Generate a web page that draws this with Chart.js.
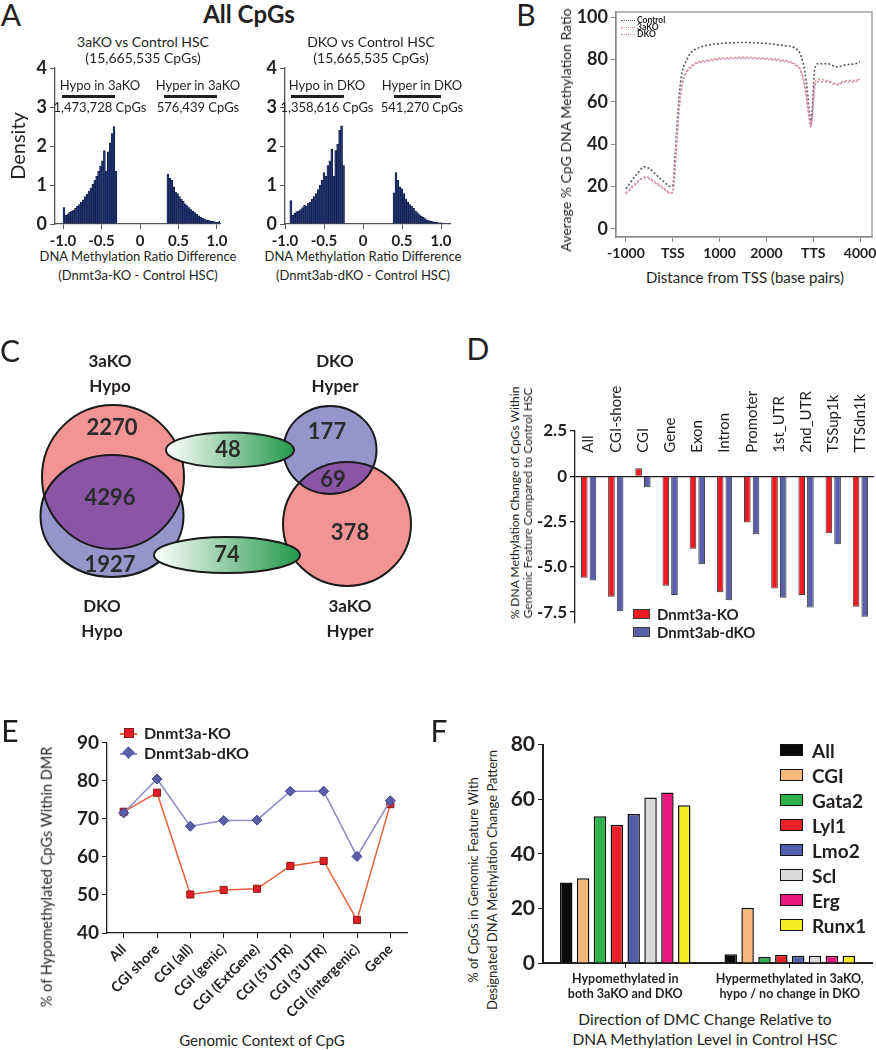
<!DOCTYPE html>
<html>
<head>
<meta charset="utf-8">
<script src="https://cdn.jsdelivr.net/npm/chart.js"></script>
<style>
body { margin: 0; width: 876px; height: 1050px; position: relative; background: #fff; overflow: hidden;
       font-family: Lato, "Open Sans", sans-serif; color: #231f20; }
.box { position: absolute; }
.t { position: absolute; white-space: nowrap; line-height: 1; }
.bar { position: absolute; background: #231f20; }
</style>
</head>
<body>
<div class="box" id="bA1"><canvas id="cA1"></canvas></div>
<div class="box" id="bA2"><canvas id="cA2"></canvas></div>
<div class="box" id="bB"><canvas id="cB"></canvas></div>
<div class="box" id="bC"><canvas id="cC"></canvas></div>
<div class="box" id="bD"><canvas id="cD"></canvas></div>
<div class="box" id="bE"><canvas id="cE"></canvas></div>
<div class="box" id="bF"><canvas id="cF"></canvas></div>
<script>
/* datos */
// A: densidades de los histogramas (bins de 0.025)
var binWidth = 0.025;
var hypo3aStart = -0.9875;
var hypo3a = [0.42, 0.22, 0.26, 0.3, 0.33, 0.36, 0.4, 0.45, 0.5, 0.56, 0.62, 0.7, 0.76, 0.84, 0.92, 1.02, 1.12, 1.22, 1.35, 1.48, 1.62, 1.88, 1.35, 1.85, 2.08, 2.32, 2.5, 1.35];
var hyper3aStart = 0.3625;
var hyper3a = [1.28, 1.18, 1.12, 0.95, 0.82, 0.78, 0.7, 0.64, 0.58, 0.52, 0.47, 0.42, 0.37, 0.33, 0.29, 0.25, 0.21, 0.18, 0.15, 0.13, 0.11, 0.1, 0.08, 0.07, 0.06, 0.05, 0.04, 0.07];
var hypoDkoStart = -0.925;
var hypoDko = [0.6, 0.22, 0.28, 0.32, 0.34, 0.37, 0.42, 0.48, 0.46, 0.53, 0.56, 0.63, 0.7, 0.78, 0.88, 1.0, 1.12, 1.32, 1.22, 1.5, 1.62, 1.92, 1.22, 1.88, 2.05, 2.4, 2.52, 1.5];
var hyperDkoStart = 0.3975;
var hyperDko = [0.8, 1.32, 1.12, 0.95, 0.9, 0.78, 0.64, 0.56, 0.5, 0.45, 0.4, 0.34, 0.29, 0.24, 0.2, 0.17, 0.14, 0.11, 0.09, 0.07, 0.06, 0.05, 0.04, 0.03, 0.03, 0.02, 0.02];
var histXTicks = [-1, -0.5, 0, 0.5, 1];
var histYTicks = [0, 1, 2, 3, 4];

// B: perfil de metilación
var profileX = [-1000, -800, -600, -500, -400, -200, -50, 0, 50, 100, 150, 200, 300, 400, 500, 700, 1000, 1500, 2000, 2400, 2600, 2750, 2850, 2920, 2950, 2980, 3030, 3100, 3300, 3500, 3700, 3900, 4000];
var profileControl = [19, 25, 29.3, 28.5, 26.5, 22.5, 20, 20.5, 35, 52, 66, 74, 80, 83.5, 85, 86.5, 87.5, 88, 87.5, 86.5, 85.5, 81, 70, 55, 50, 56, 75, 78, 78, 76.5, 77.5, 78, 79];
var profile3aKO = [16.5, 21, 24.5, 24, 22.5, 19.5, 17, 17.5, 30, 47, 61, 69, 74.5, 77, 78.5, 79.5, 80.5, 81, 80.5, 79.5, 78, 74, 64, 52, 48.5, 54, 68, 70.5, 70, 68.5, 70, 70, 71];
var profileDKO = [17, 21.5, 24.2, 23.6, 22, 19, 16.8, 17.2, 29, 46, 60, 68, 74, 76.5, 78, 79, 80, 80.5, 80, 79, 77.5, 73.5, 63, 51, 48, 53, 67, 69.5, 69.5, 68, 69.5, 69.5, 70.5];
var profileXTicks = [-1000, 0, 1000, 2000, 3000, 4000];
var profileXLabels = ["-1000", "TSS", "1000", "2000", "TTS", "4000"];
var profileYTicks = [0, 20, 40, 60, 80, 100];

// C: recuentos del diagrama de Venn
var vennNames = ["3aKO Hypo only", "3aKO+DKO Hypo", "DKO Hypo only", "DKO Hyper only", "DKO+3aKO Hyper", "3aKO Hyper only", "3aKO Hypo / DKO Hyper", "DKO Hypo / 3aKO Hyper"];
var vennCounts = [2270, 4296, 1927, 177, 69, 378, 48, 74];

// D: cambio de metilación por elemento genómico
var featuresD = ["All", "CGI-shore", "CGI", "Gene", "Exon", "Intron", "Promoter", "1st_UTR", "2nd_UTR", "TSSup1k", "TTSdn1k"];
var changeKO = [-5.6, -6.65, 0.45, -6.05, -4.0, -6.4, -2.55, -6.2, -6.55, -3.15, -7.2];
var changeDKO = [-5.75, -7.45, -0.6, -6.55, -4.85, -6.85, -3.2, -6.7, -7.25, -3.75, -7.75];
var changeYTicks = [-7.5, -5, -2.5, 0, 2.5];

// E: % CpG hipometilados en DMR
var contextsE = ["All", "CGI shore", "CGI (all)", "CGI (genic)", "CGI (ExtGene)", "CGI (5\u2019UTR)", "CGI (3\u2019UTR)", "CGI (intergenic)", "Gene"];
var hypoKO = [71.8, 76.8, 50.1, 51.3, 51.6, 57.6, 58.9, 43.4, 73.8];
var hypoDKO = [71.5, 80.4, 68.0, 69.5, 69.6, 77.2, 77.2, 60.1, 74.7];

// F: patrones por elemento
var groupsF = [["Hypomethylated in", "both 3aKO and DKO"], ["Hypermethylated in 3aKO,", "hypo / no change in DKO"]];
var featuresF = ["All", "CGI", "Gata2", "Lyl1", "Lmo2", "Scl", "Erg", "Runx1"];
var hypoBoth = [29.5, 31, 53.8, 50.6, 54.6, 60.6, 62.5, 57.8];
var hyper3aOnly = [3.2, 20.2, 2.2, 3.0, 2.7, 2.7, 2.7, 2.7];
var colorsF = ["#0a0a0a", "#f5b97c", "#2eb24b", "#e8202a", "#545fab", "#d9d9d9", "#e8187f", "#f4ec1f"];

/* ajustes generales */
Chart.defaults.font.family = "Lato, 'Open Sans', sans-serif";
Chart.defaults.color = "#231f20";
Chart.defaults.animation = false;
Chart.defaults.responsive = true;
Chart.defaults.maintainAspectRatio = false;
Chart.defaults.plugins.legend.display = false;
Chart.defaults.plugins.tooltip.enabled = false;

var PAD = 14;
var INK = "#231f20";

// coloca la caja para que el área del gráfico quede en (L,T)-(R,B)
function place(id, L, T, R, B, yw, xh) {
    var el = document.getElementById(id);
    el.style.left = (L - yw) + "px";
    el.style.top = (T - PAD) + "px";
    el.style.width = (R - L + yw + PAD) + "px";
    el.style.height = (B - T + PAD + (xh ? xh : PAD)) + "px";
}
function padding(xh) {
    return {top: PAD, right: PAD, left: 0, bottom: xh ? 0 : PAD};
}

function axis(o) {
    var a = {
        type: o.type || "linear",
        offset: o.offset || false,
        border: {color: o.color || INK, width: o.lw || 1.3},
        grid: {drawOnChartArea: false, color: o.color || INK, tickLength: 5, offset: false},
        ticks: {color: INK, padding: 3, autoSkip: false, maxRotation: o.rot || 0, minRotation: o.rot || 0,
                font: {weight: "bold", size: o.size}},
        afterFit: function (s) {
            if (o.w !== undefined) s.width = o.w;
            if (o.h !== undefined) s.height = o.h;
        }
    };
    if (o.min !== undefined) { a.min = o.min; a.max = o.max; }
    if (o.values) a.afterBuildTicks = function (s) {
        s.ticks = o.values.map(function (v) { return {value: v}; });
    };
    if (o.format) a.ticks.callback = o.format;
    if (o.lineHeight) a.ticks.font.lineHeight = o.lineHeight;
    return a;
}

function txt(s, x, y, size, weight, rot, left) {
    var d = document.createElement("div");
    d.className = "t";
    d.textContent = s;
    d.style.left = x + "px";
    d.style.top = y + "px";
    d.style.fontSize = size + "px";
    if (weight) d.style.fontWeight = weight;
    d.style.transform = (left ? "translate(0,-50%)" : "translate(-50%,-50%)") + (rot ? " rotate(-90deg)" : "");
    document.body.appendChild(d);
    return d;
}
function rule(x, y, w, h, color) {
    var d = document.createElement("div");
    d.className = "bar";
    d.style.left = x + "px"; d.style.top = y + "px";
    d.style.width = w + "px"; d.style.height = h + "px";
    if (color) d.style.background = color;
    document.body.appendChild(d);
    return d;
}

/* A: histogramas */
function binPoints(start, values) {
    return values.map(function (v, i) { return {x: start + i * binWidth, y: v}; });
}
function histogram(id, hypoStart, hypo, hyperStart, hyper, xmin, xmax, yw) {
    var pts = binPoints(hypoStart, hypo).concat(binPoints(hyperStart, hyper));
    new Chart(document.getElementById(id), {
        type: "bar",
        data: {datasets: [{data: pts, backgroundColor: "#223778", borderColor: "#0c1535", borderWidth: 0.6,
                           barPercentage: 1, categoryPercentage: 1}]},
        options: {
            layout: {padding: padding(22)},
            scales: {
                x: axis({min: xmin, max: xmax, values: histXTicks, size: 15, h: 22, color: "#555",
                         format: function (v) { return v === 0 ? "0" : v.toFixed(1); }}),
                y: axis({min: 0, max: 4, values: histYTicks, size: 18, w: yw, color: "#555"})
            }
        }
    });
}
place("bA1", 55, 68, 220, 224, 55, 22);
histogram("cA1", hypo3aStart, hypo3a, hyper3aStart, hyper3a, -1.104, 1.039, 55);
place("bA2", 285, 68, 450, 224, 40, 22);
histogram("cA2", hypoDkoStart, hypoDko, hyperDkoStart, hyperDko, -1.0, 1.115, 40);

txt("A", 11, 14, 30);
txt("All CpGs", 249, 14, 24, "bold");
txt("3aKO vs Control HSC", 143, 42, 14);
txt("(15,665,535 CpGs)", 143, 58, 14);
txt("DKO vs Control HSC", 371, 42, 14);
txt("(15,665,535 CpGs)", 371, 58, 14);
txt("Hypo in 3aKO", 100, 85, 13);
rule(62, 95, 53, 3);
txt("1,473,728 CpGs", 100, 107, 13);
txt("Hyper in 3aKO", 198, 85, 13);
rule(164, 95, 53, 3);
txt("576,439 CpGs", 198, 107, 13);
txt("Hypo in DKO", 327, 85, 13);
rule(291, 95, 53, 3);
txt("1,358,616 CpGs", 327, 107, 13);
txt("Hyper in DKO", 422, 85, 13);
rule(394, 95, 47, 3);
txt("541,270 CpGs", 422, 107, 13);
txt("Density", 17, 146, 20, null, true);
txt("DNA Methylation Ratio Difference", 138, 256, 13);
txt("(Dnmt3a-KO - Control HSC)", 138, 275, 13);
txt("DNA Methylation Ratio Difference", 363, 256, 13);
txt("(Dnmt3ab-dKO - Control HSC)", 363, 275, 13);

/* B: perfil */
var frame = {
    id: "frame",
    afterDraw: function (chart) {
        var a = chart.chartArea, ctx = chart.ctx;
        ctx.save();
        ctx.strokeStyle = "#8a8a8a";
        ctx.lineWidth = 1.2;
        ctx.strokeRect(a.left, a.top, a.right - a.left, a.bottom - a.top);
        ctx.restore();
    }
};
function profileSet(values, color) {
    return {
        data: profileX.map(function (x, i) { return {x: x, y: values[i]}; }),
        borderColor: color, borderWidth: 1.6, borderDash: [2, 2], pointRadius: 0,
        cubicInterpolationMode: "monotone", fill: false
    };
}
place("bB", 616, 12, 872, 237, 50, 26);
new Chart(document.getElementById("cB"), {
    type: "line",
    data: {datasets: [profileSet(profileDKO, "#c98fc4"), profileSet(profile3aKO, "#ec8a86"), profileSet(profileControl, "#555a66")]},
    options: {
        layout: {padding: padding(26)},
        scales: {
            x: axis({min: -1213, max: 4255, values: profileXTicks, size: 14, h: 26, color: "#8a8a8a",
                     format: function (v) { return profileXLabels[profileXTicks.indexOf(v)]; }}),
            y: axis({min: -3.8, max: 102.4, values: profileYTicks, size: 18, w: 50, color: "#8a8a8a"})
        }
    },
    plugins: [frame]
});
txt("B", 526, 14, 30);
txt("Average % CpG DNA Methylation Ratio", 566, 130, 14, null, true);
txt("Distance from TSS (base pairs)", 745, 277, 15);
[["Control", "#555a66", 20], ["3aKO", "#ec8a86", 27], ["DKO", "#c98fc4", 34]].forEach(function (l) {
    var r = rule(621, l[2], 14, 0);
    r.style.background = "none";
    r.style.borderTop = "1.6px dotted " + l[1];
    txt(l[0], 637, l[2], 8.5, "bold", false, true);
});

/* C: Venn (geometría en unidades de la escala oculta) */
var vennLayout = {
    hypo3a: {cx: 113, cy: 177, rx: 71, ry: 72},
    hypoDko: {cx: 112, cy: 216, rx: 71.5, ry: 61},
    hyperDko: {cx: 330, cy: 150, rx: 46.5, ry: 44},
    hyper3a: {cx: 347, cy: 224, rx: 64, ry: 62},
    linkTop: {cx: 230, cy: 150, rx: 64, ry: 17.5},
    linkBottom: {cx: 227, cy: 255, rx: 73, ry: 18},
    countPos: [[112, 128], [110, 198], [110, 265], [327, 132], [333, 180], [350, 233], [228, 150], [227, 255]]
};
var vennPlugin = {
    id: "venn",
    afterDraw: function (chart) {
        var ctx = chart.ctx, sx = chart.scales.x, sy = chart.scales.y;
        function path(e) {
            ctx.beginPath();
            ctx.ellipse(sx.getPixelForValue(e.cx), sy.getPixelForValue(e.cy),
                        Math.abs(sx.getPixelForValue(e.cx + e.rx) - sx.getPixelForValue(e.cx)),
                        Math.abs(sy.getPixelForValue(e.cy + e.ry) - sy.getPixelForValue(e.cy)), 0, 0, 2 * Math.PI);
        }
        function pair(a, b, colA, colB) {
            path(a); ctx.fillStyle = colA; ctx.fill();
            path(b); ctx.fillStyle = colB; ctx.fill();
            ctx.save(); path(a); ctx.clip(); path(b); ctx.fillStyle = "#8b55a6"; ctx.fill(); ctx.restore();
            ctx.lineWidth = 2; ctx.strokeStyle = "#1a1a1a";
            path(a); ctx.stroke(); path(b); ctx.stroke();
        }
        function link(e) {
            var x0 = sx.getPixelForValue(e.cx - e.rx), x1 = sx.getPixelForValue(e.cx + e.rx);
            var g = ctx.createLinearGradient(x0, 0, x1, 0);
            g.addColorStop(0, "#ffffff");
            g.addColorStop(1, "#22984a");
            path(e); ctx.fillStyle = g; ctx.fill();
            ctx.lineWidth = 2; ctx.strokeStyle = "#1a1a1a"; ctx.stroke();
        }
        ctx.save();
        pair(vennLayout.hypo3a, vennLayout.hypoDko, "#f29494", "#9595cc");
        pair(vennLayout.hyperDko, vennLayout.hyper3a, "#9595cc", "#f29494");
        link(vennLayout.linkTop);
        link(vennLayout.linkBottom);
        ctx.fillStyle = "#2b2b2b";
        ctx.font = "bold 22px Lato, sans-serif";
        ctx.textAlign = "center";
        ctx.textBaseline = "middle";
        vennCounts.forEach(function (n, i) {
            var p = vennLayout.countPos[i];
            ctx.fillText(String(n), sx.getPixelForValue(p[0]), sy.getPixelForValue(p[1]));
        });
        ctx.restore();
    }
};
var bC = document.getElementById("bC");
bC.style.left = "0px"; bC.style.top = "300px"; bC.style.width = "430px"; bC.style.height = "350px";
new Chart(document.getElementById("cC"), {
    type: "scatter",
    data: {datasets: [{label: "sets", data: []}]},
    options: {
        layout: {padding: 0},
        scales: {
            x: {display: false, min: 0, max: 430},
            y: {display: false, min: 0, max: 350, reverse: true}
        }
    },
    plugins: [vennPlugin]
});
txt("C", 10, 350, 30);
txt("3aKO", 110, 360, 17, "bold"); txt("Hypo", 110, 385, 17, "bold");
txt("DKO", 335, 360, 17, "bold"); txt("Hyper", 335, 385, 17, "bold");
txt("DKO", 102, 605, 17, "bold"); txt("Hypo", 102, 630, 17, "bold");
txt("3aKO", 350, 605, 17, "bold"); txt("Hyper", 350, 630, 17, "bold");

/* D: barras de cambio */
var topLabels = {
    id: "topLabels",
    afterDraw: function (chart) {
        var ctx = chart.ctx, x = chart.scales.x, y = chart.scales.y;
        ctx.save();
        ctx.font = "15px Lato, sans-serif";
        ctx.fillStyle = INK;
        ctx.textBaseline = "middle";
        ctx.textAlign = "left";
        chart.data.labels.forEach(function (lab, i) {
            ctx.save();
            ctx.translate(x.getPixelForValue(i), y.getPixelForValue(1.3));
            ctx.rotate(-Math.PI / 2);
            ctx.fillText(lab, 0, 0);
            ctx.restore();
        });
        ctx.restore();
    }
};
place("bD", 575, 431, 874, 623, 45, 0);
var bD = document.getElementById("bD");
bD.style.top = "380px";
bD.style.height = (623 - 380 + PAD) + "px";
var yD = axis({min: -8.1, max: 2.5, values: changeYTicks, size: 17, w: 45,
               format: function (v) { return v === 0 ? "0" : v.toFixed(1); }});
yD.grid.drawOnChartArea = true;
yD.grid.color = function (c) { return c.tick && c.tick.value === 0 ? INK : "rgba(0,0,0,0)"; };
yD.grid.tickColor = INK;
yD.grid.lineWidth = 1.3;
new Chart(document.getElementById("cD"), {
    type: "bar",
    data: {
        labels: featuresD,
        datasets: [
            {label: "Dnmt3a-KO", data: changeKO, backgroundColor: "#ed1c24", borderColor: "#3a3a3a", borderWidth: 1,
             categoryPercentage: 0.64, barPercentage: 0.76},
            {label: "Dnmt3ab-dKO", data: changeDKO, backgroundColor: "#5b5ea8", borderColor: "#3a3a3a", borderWidth: 1,
             categoryPercentage: 0.64, barPercentage: 0.76}
        ]
    },
    options: {
        layout: {padding: {top: 431 - 380, right: PAD, left: 0, bottom: PAD}},
        scales: {x: {display: false}, y: yD}
    },
    plugins: [topLabels]
});
txt("D", 478, 348, 30);
txt("% DNA Methylation Change of CpGs Within", 515, 503, 12, null, true);
txt("Genomic Feature Compared to Control HSC", 528, 503, 12, null, true);
[["Dnmt3a-KO", "#ed1c24", 614], ["Dnmt3ab-dKO", "#5b5ea8", 632]].forEach(function (l) {
    var r = rule(633, l[2] - 5, 17, 10, l[1]);
    r.style.boxSizing = "border-box";
    r.style.border = "1px solid #3a3a3a";
    txt(l[0], 657, l[2], 15, "bold", false, true);
});

/* E: líneas */
place("bE", 107, 742, 407, 933, 107, 95);
new Chart(document.getElementById("cE"), {
    type: "line",
    data: {
        labels: contextsE,
        datasets: [
            {label: "Dnmt3ab-dKO", data: hypoDKO, borderColor: "#8a8ac6", borderWidth: 1.5, pointStyle: "rectRot",
             pointRadius: 5, pointBackgroundColor: "#5a5ea8", pointBorderColor: "#3f4388", pointBorderWidth: 1, tension: 0},
            {label: "Dnmt3a-KO", data: hypoKO, borderColor: "#e8603c", borderWidth: 1.5, pointStyle: "rect",
             pointRadius: 5, pointBackgroundColor: "#e31e24", pointBorderColor: "#8a1a1a", pointBorderWidth: 1, tension: 0}
        ]
    },
    options: {
        layout: {padding: padding(95)},
        scales: {
            x: axis({type: "category", offset: true, rot: 45, size: 14, h: 95}),
            y: axis({min: 40, max: 90, values: [40, 50, 60, 70, 80, 90], size: 19, w: 107})
        }
    }
});
txt("E", 10, 730, 30);
txt("% of Hypomethylated CpGs Within DMR", 47, 877, 14.5, null, true);
txt("Genomic Context of CpG", 262, 1040, 15);
rule(120, 733, 17, 1.5, "#e8603c");
var sq = rule(124, 728, 10, 10, "#e31e24");
sq.style.boxSizing = "border-box"; sq.style.border = "1px solid #8a1a1a";
txt("Dnmt3a-KO", 144, 733, 16, "bold", false, true);
rule(120, 753, 17, 1.5, "#8a8ac6");
var dm = rule(124, 748, 9, 9, "#5a5ea8");
dm.style.transform = "rotate(45deg)";
txt("Dnmt3ab-dKO", 144, 753, 16, "bold", false, true);

/* F: barras por elemento */
place("bF", 543, 743, 872, 963, 42, 42);
new Chart(document.getElementById("cF"), {
    type: "bar",
    data: {
        labels: groupsF,
        datasets: featuresF.map(function (f, i) {
            return {label: f, data: [hypoBoth[i], hyper3aOnly[i]], backgroundColor: colorsF[i],
                    borderColor: "#111", borderWidth: 1.5, categoryPercentage: 0.82, barPercentage: 0.74};
        })
    },
    options: {
        layout: {padding: padding(42)},
        scales: {
            x: axis({type: "category", offset: true, size: 12.5, h: 42, lw: 2, lineHeight: 1.25}),
            y: axis({min: 0, max: 80, values: [0, 20, 40, 60, 80], size: 21, w: 42, lw: 2})
        }
    }
});
txt("F", 439, 730, 30);
txt("% of CpGs in Genomic Feature With", 473, 880, 13, null, true);
txt("Designated DNA Methylation Change Pattern", 492, 880, 13, null, true);
txt("Direction of DMC Change Relative to", 705, 1020, 15.5);
txt("DNA Methylation Level in Control HSC", 705, 1040, 15.5);
featuresF.forEach(function (f, i) {
    var y = 750 + i * 25;
    var r = rule(780, y - 6, 23, 12, colorsF[i]);
    r.style.boxSizing = "border-box"; r.style.border = "1.5px solid #111";
    txt(f, 812, y, 19, "bold", false, true);
});
</script>
</body>
</html>
